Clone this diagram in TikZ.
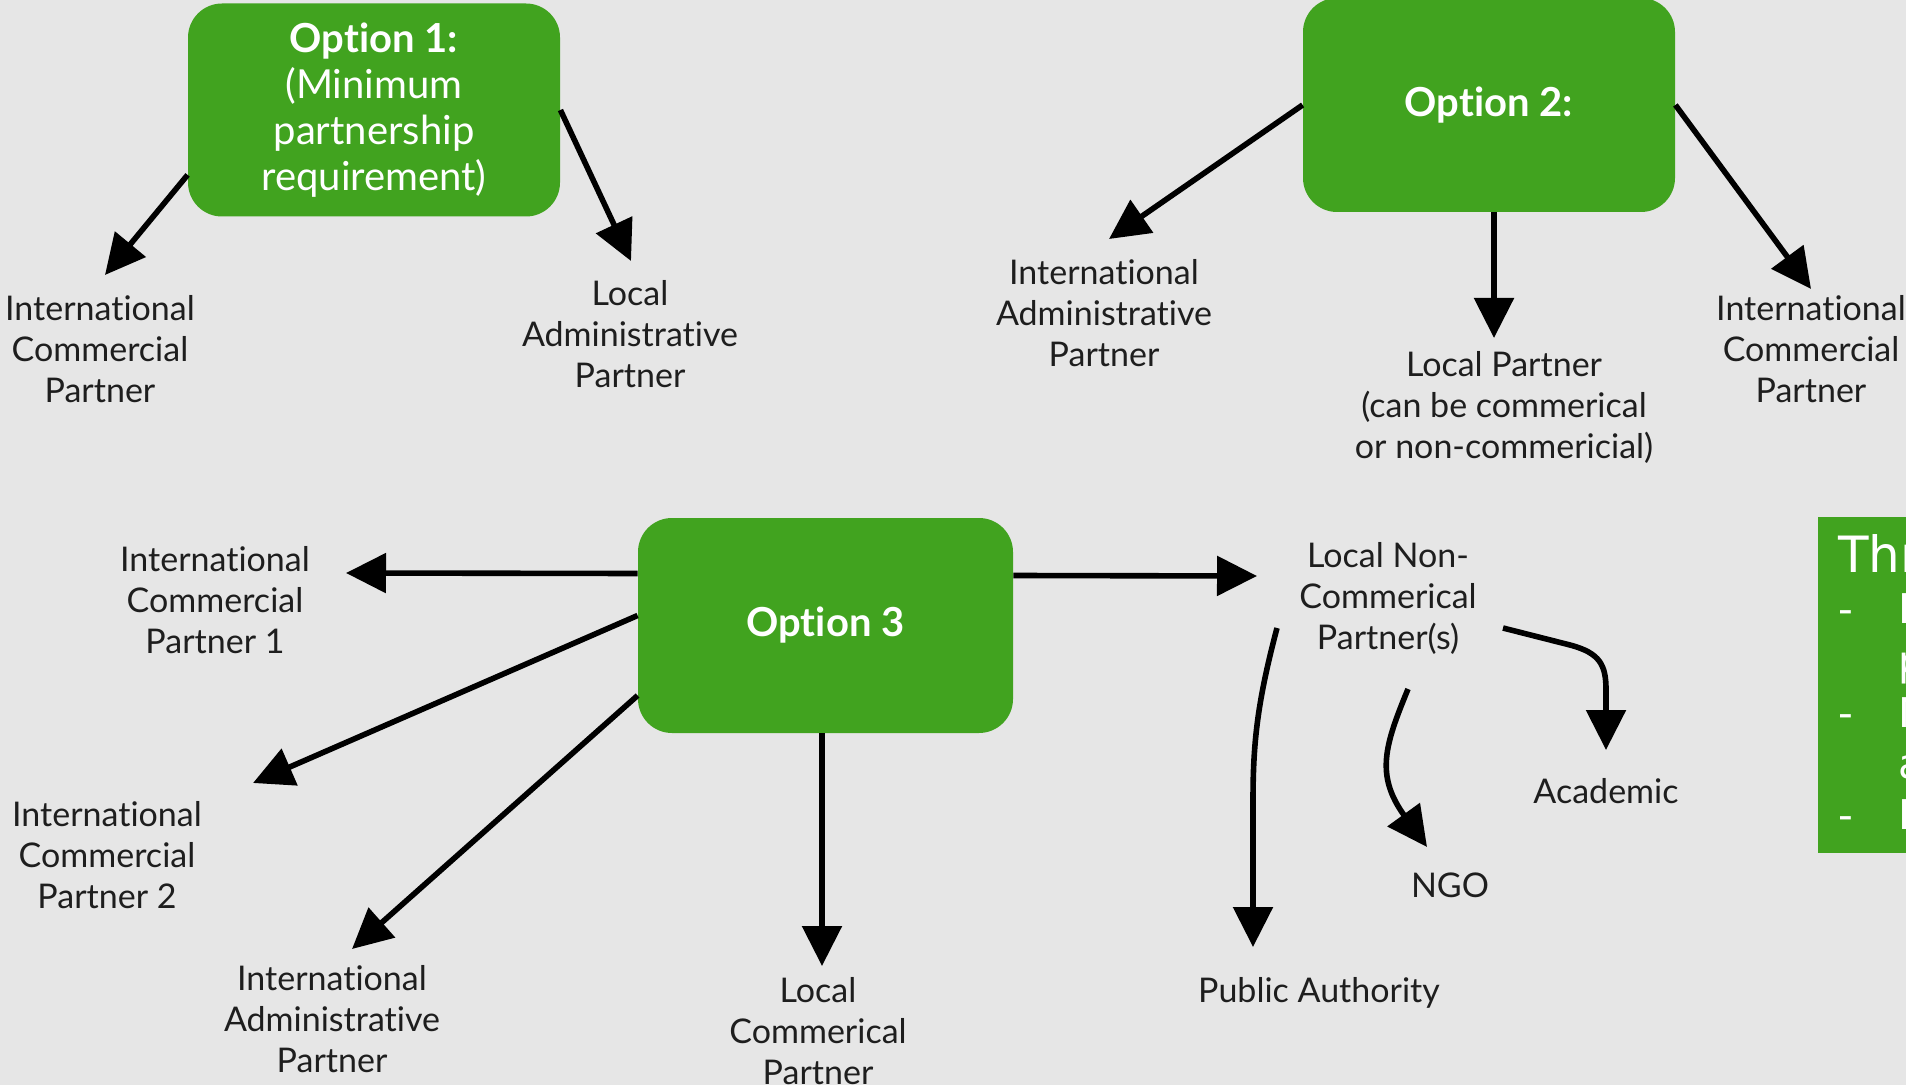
\documentclass[tikz,border=0pt]{standalone}
\usepackage{fontspec}
\setmainfont{Lato}[Ligatures=NoCommon]
\newfontfamily\sidefont{DejaVu Sans}
\usetikzlibrary{arrows.meta,calc}
\definecolor{bg}{HTML}{E6E6E6}
\definecolor{grn}{HTML}{41A31F}
\definecolor{ink}{HTML}{1E1E1E}
\begin{document}
\begin{tikzpicture}[x=0.5pt,y=-0.5pt,
  optbox/.style={fill=grn, draw=none, rounded corners=17pt, inner sep=0pt, text=white, align=center, font=\fontsize{20}{23}\selectfont},
  lbl/.style={text=ink, align=center, inner sep=0pt, font=\fontsize{17}{20.5}\selectfont},
  arr/.style={line width=2.8pt, -{Triangle[length=20pt,width=19.5pt]}, draw=black},
  sidetxt/.style={text=white, inner sep=0pt, anchor=base west, font=\sidefont\fontsize{20.5}{24}\selectfont},
]
\useasboundingbox (0,0) rectangle (1906,1085);
\clip (0,0) rectangle (1906,1085);
\fill[bg] (0,0) rectangle (1906,1085);

% option boxes
\node[optbox, minimum width=186pt, minimum height=106.5pt] (o1) at (374,110) {\textbf{Option 1:}\\(Minimum\\partnership\\requirement)};
\node[optbox, minimum width=186pt, minimum height=107pt] (o2) at (1489,105) {\textbf{Option 2:}};
\node[optbox, minimum width=187.5pt, minimum height=107.5pt] (o3) at (825.5,625.5) {\textbf{Option 3}};

% labels
\node[lbl] (l1a) at (100,349) {International\\Commercial\\Partner};
\node[lbl] (l1b) at (630,334) {Local\\Administrative\\Partner};
\node[lbl] (l2a) at (1104,313) {International\\Administrative\\Partner};
\node[lbl] (l2b) at (1504,407) {Local Partner\\(can be commerical\\or non-commericial)};
\node[lbl] (l2c) at (1811,349) {International\\Commercial\\Partner};
\node[lbl] (l3a) at (215,600) {International\\Commercial\\Partner 1};
\node[lbl] (l3b) at (107,855) {International\\Commercial\\Partner 2};
\node[lbl] (l3c) at (332,1019) {International\\Administrative\\Partner};
\node[lbl] (l3d) at (818,1031) {Local\\Commerical\\Partner};
\node[lbl] (lnc) at (1388,598) {Local Non-\\Commerical\\Partner(s)};
\node[lbl] (acad) at (1606,791) {Academic};
\node[lbl] (ngo) at (1450,885) {NGO};
\node[lbl] (pa) at (1319,993) {Public Authority};

% arrow tips
\coordinate (t1a) at (105,275);
\coordinate (t1b) at (631,261);
\coordinate (t2a) at (1109,239);
\coordinate (t2b) at (1494,338);
\coordinate (t2c) at (1811,289);
\coordinate (t3a) at (346,573);
\coordinate (t3b) at (253,783);
\coordinate (t3c) at (352,949);
\coordinate (t3d) at (822,966);
\coordinate (t3e) at (1257,576);
\coordinate (tpa) at (1253,947);
\coordinate (tngo) at (1427,847);
\coordinate (tacad) at (1606,750);

% option 1
\draw[arr] ([yshift=21pt]o1.south west) -- (t1a);
\draw[arr] (o1.east) -- (t1b);
% option 2
\draw[arr] (o2.west) -- (t2a);
\draw[arr] ([xshift=2.5pt]o2.south) -- (t2b);
\draw[arr] (o2.east) -- (t2c);
% option 3
\draw[arr] ([yshift=26pt]o3.west) -- (t3a);
\draw[arr] ([yshift=5pt]o3.west) -- (t3b);
\draw[arr] ([yshift=-35pt]o3.west) -- (t3c);
\draw[arr] ([xshift=-1.75pt]o3.south) -- (t3d);
\draw[arr] ([yshift=25pt]o3.east) -- (t3e);
% local non-commercial
\draw[arr] ($(lnc)+(-111,30)$) .. controls (1258,700) and (1253,740) .. (1253,800) -- (tpa);
\draw[arr] ($(lnc)+(20,91)$) .. controls (1385,745) and (1375,775) .. (tngo);
\draw[arr] ($(lnc)+(115,30)$) -- (1570,645) .. controls (1600,653) and (1606,665) .. (1606,690) -- (tacad);

% side box (cut off at right edge)
\node[fill=grn, inner sep=0pt, minimum width=51pt, minimum height=168pt, anchor=north west] (side) at (1818,517) {};
\node[sidetxt, font=\sidefont\fontsize{25}{30}\selectfont] (s0) at (1838,572) {Thr};
\node[sidetxt] (s1d) at (1838,623) {-};
\node[sidetxt] (s1) at (1898,623) {I};
\node[sidetxt] (s2) at (1898,675) {p};
\node[sidetxt] (s3d) at (1838,727) {-};
\node[sidetxt] (s3) at (1898,727) {N};
\node[sidetxt] (s4) at (1898,778) {a};
\node[sidetxt] (s5d) at (1838,829) {-};
\node[sidetxt] (s5) at (1898,829) {L};
\end{tikzpicture}
\end{document}
